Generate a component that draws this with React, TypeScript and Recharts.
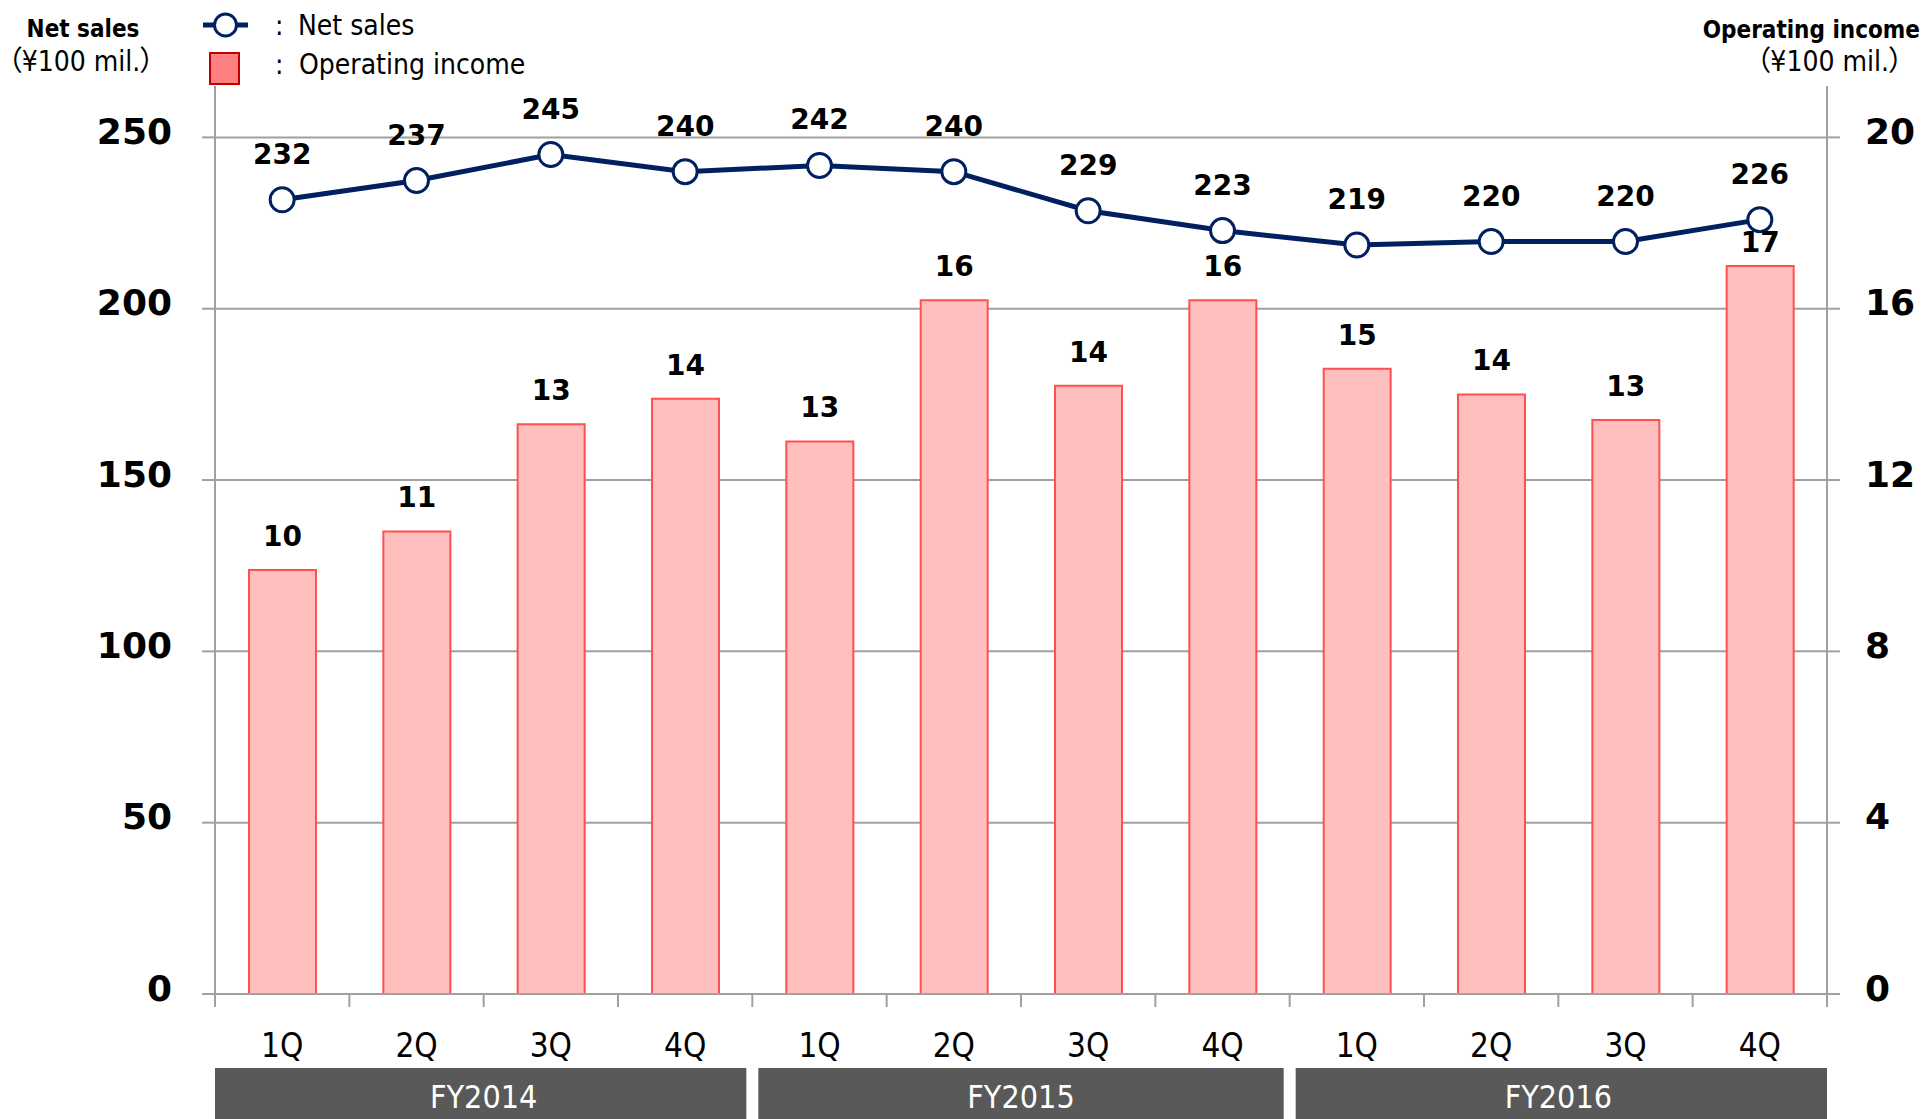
import React, { useEffect } from 'react';
import { ComposedChart, Bar, Line, XAxis, YAxis, CartesianGrid, LabelList, Legend } from 'recharts';

// ---- data ----
const quarters = ['1Q', '2Q', '3Q', '4Q', '1Q', '2Q', '3Q', '4Q', '1Q', '2Q', '3Q', '4Q'];
const fiscalYears = ['FY2014', 'FY2015', 'FY2016'];
const netSales = [231.8, 237.4, 245.0, 240.0, 241.8, 240.0, 228.6, 222.8, 218.6, 219.6, 219.6, 226.0];
const operatingIncome = [9.9, 10.8, 13.3, 13.9, 12.9, 16.2, 14.2, 16.2, 14.6, 14.0, 13.4, 17.0];
const salesTicks = [0, 50, 100, 150, 200, 250];
const incomeTicks = [0, 4, 8, 12, 16, 20];
const salesDomain = [0, 265];
const incomeDomain = [0, 21.2];

const data = quarters.map((q, i) => ({
  id: fiscalYears[Math.floor(i / 4)] + ' ' + q,
  q,
  sales: netSales[i],
  income: operatingIncome[i],
}));

// ---- layout / style ----
const W = 1925;
const H = 1119;
const LEFT_W = 215;
const RIGHT_W = 98;
const TOP = 86;
const X_H = 125;
const PLOT_W = W - LEFT_W - RIGHT_W;
const PLOT_H = H - TOP - X_H;
const BAND = PLOT_W / quarters.length;
const GRAY = '#A0A0A0';
const NAVY = '#002060';
const BAR_FILL = '#FFBFBF';
const BAR_STROKE = '#FF5050';
const FONT_BOLD = "'DejaVu Sans', sans-serif";
const FONT_COND = "'DejaVu Sans Condensed', 'DejaVu Sans', 'Noto Sans CJK JP', sans-serif";
const DOT_R = 12;

const pick = (p: any) => {
  const vb = p.viewBox || {};
  return {
    x: p.x ?? vb.x,
    y: p.y ?? vb.y,
    width: p.width ?? vb.width ?? 0,
  };
};

const LineLabel = (p: any) => {
  const { x, y } = pick(p);
  return (
    <text x={x} y={y - 36} textAnchor="middle" fontFamily={FONT_BOLD} fontWeight={700} fontSize={28} fill="#000">
      {Math.round(Number(p.value))}
    </text>
  );
};

const BarLabel = (p: any) => {
  const { x, y, width } = pick(p);
  // keep the label clear of the Net sales marker drawn above the bar
  const idx = p.index;
  const lineY = idx != null ? TOP + PLOT_H * (1 - netSales[idx] / salesDomain[1]) : -1000;
  let centre = y - 34;
  if (centre - 11 < lineY + DOT_R + 2) centre = y - 24;
  return (
    <text x={x + width / 2} y={centre + 10} textAnchor="middle" fontFamily={FONT_BOLD} fontWeight={700} fontSize={28} fill="#000">
      {Math.round(Number(p.value))}
    </text>
  );
};

const QuarterTick = (p: any) => {
  const { x, y, index } = p;
  const left = x - BAND / 2;
  const els: any[] = [];
  els.push(<line key="t0" x1={left} x2={left} y1={y} y2={y + 13} stroke={GRAY} strokeWidth={2} />);
  if (index === quarters.length - 1) {
    els.push(<line key="t1" x1={left + BAND} x2={left + BAND} y1={y} y2={y + 13} stroke={GRAY} strokeWidth={2} />);
  }
  els.push(
    <text key="q" x={x} y={y + 63} textAnchor="middle" fontFamily={FONT_COND} fontSize={33} fill="#000">
      {quarters[index]}
    </text>
  );
  if (index % 4 === 0) {
    const fyIdx = index / 4;
    const x0 = left + (fyIdx === 0 ? 0 : 6);
    const x1 = left + 4 * BAND - (fyIdx === fiscalYears.length - 1 ? 0 : 6);
    els.push(<rect key="b" x={x0} y={y + 74} width={x1 - x0} height={70} fill="#595959" />);
    els.push(
      <text key="fy" x={left + 2 * BAND} y={y + 114} textAnchor="middle" fontFamily={FONT_COND} fontSize={32} fill="#fff">
        {fiscalYears[fyIdx]}
      </text>
    );
  }
  return <g>{els}</g>;
};

const unitStyle = { fontFeatureSettings: '"palt"' } as any;

const LeftTitle = () => (
  <g>
    <text x={83} y={37} textAnchor="middle" fontFamily={FONT_COND} fontWeight={700} fontSize={24} fill="#000">Net sales</text>
    <text x={81} y={71} textAnchor="middle" fontFamily={FONT_COND} fontSize={28} fill="#000" style={unitStyle}>（¥100 mil.）</text>
  </g>
);

const RightTitle = () => (
  <g>
    <text x={1920} y={38} textAnchor="end" fontFamily={FONT_COND} fontWeight={700} fontSize={24} fill="#000">Operating income</text>
    <text x={1903} y={71} textAnchor="end" fontFamily={FONT_COND} fontSize={28} fill="#000" style={unitStyle}>（¥100 mil.）</text>
  </g>
);

const LegendContent = () => (
  <svg width={420} height={100} style={{ display: 'block' }}>
    <line x1={13} x2={58} y1={25} y2={25} stroke={NAVY} strokeWidth={5} />
    <circle cx={35.5} cy={25} r={11} fill="#fff" stroke={NAVY} strokeWidth={3} />
    <text x={85} y={35} fontFamily={FONT_COND} fontSize={28} fill="#000">:</text>
    <text x={108} y={35} fontFamily={FONT_COND} fontSize={28} fill="#000">Net sales</text>
    <rect x={20} y={53} width={29} height={31} fill="#FF8080" stroke="#C00000" strokeWidth={2} />
    <text x={85} y={74} fontFamily={FONT_COND} fontSize={28} fill="#000">:</text>
    <text x={109} y={74} fontFamily={FONT_COND} fontSize={28} fill="#000">Operating income</text>
  </svg>
);

export default function App() {
  useEffect(() => {
    document.body.style.overflow = 'hidden';
  }, []);
  return (
    <div style={{ position: 'absolute', left: 0, top: 0, width: W, height: H, background: '#fff' }}>
      <ComposedChart width={W} height={H} data={data} margin={{ top: TOP, right: 0, bottom: 0, left: 0 }}>
        <CartesianGrid yAxisId="left" vertical={false} horizontalValues={salesTicks} stroke={GRAY} strokeWidth={2} />
        <XAxis
          dataKey="id"
          height={X_H}
          interval={0}
          tickLine={false}
          tickSize={0}
          tickMargin={0}
          axisLine={{ stroke: GRAY, strokeWidth: 2 }}
          tick={<QuarterTick />}
        />
        <YAxis
          yAxisId="left"
          orientation="left"
          width={LEFT_W}
          domain={salesDomain}
          ticks={salesTicks}
          allowDataOverflow
          tickSize={13}
          tickMargin={30}
          tickLine={{ stroke: GRAY, strokeWidth: 2 }}
          axisLine={{ stroke: GRAY, strokeWidth: 2 }}
          tick={{ fill: '#000', fontSize: 36, fontWeight: 700, fontFamily: FONT_BOLD, dy: -6 }}
          label={{ content: <LeftTitle /> }}
        />
        <YAxis
          yAxisId="right"
          orientation="right"
          width={RIGHT_W}
          domain={incomeDomain}
          ticks={incomeTicks}
          allowDataOverflow
          tickSize={13}
          tickMargin={25}
          tickLine={{ stroke: GRAY, strokeWidth: 2 }}
          axisLine={{ stroke: GRAY, strokeWidth: 2 }}
          tick={{ fill: '#000', fontSize: 36, fontWeight: 700, fontFamily: FONT_BOLD, dy: -6 }}
          label={{ content: <RightTitle /> }}
        />
        <Legend
          layout="vertical"
          align="center"
          verticalAlign="middle"
          content={<LegendContent />}
          wrapperStyle={{ left: 190, top: 0, width: 420, height: 100 }}
        />
        <Bar yAxisId="right" dataKey="income" name="Operating income" fill={BAR_FILL} stroke={BAR_STROKE} strokeWidth={2} barSize={67} isAnimationActive={false}>
          <LabelList dataKey="income" content={<BarLabel />} />
        </Bar>
        <Line
          yAxisId="left"
          dataKey="sales"
          name="Net sales"
          stroke={NAVY}
          strokeWidth={5}
          dot={{ r: DOT_R, fill: '#fff', stroke: NAVY, strokeWidth: 3 }}
          activeDot={false}
          isAnimationActive={false}
        >
          <LabelList dataKey="sales" content={<LineLabel />} />
        </Line>
      </ComposedChart>
    </div>
  );
}
